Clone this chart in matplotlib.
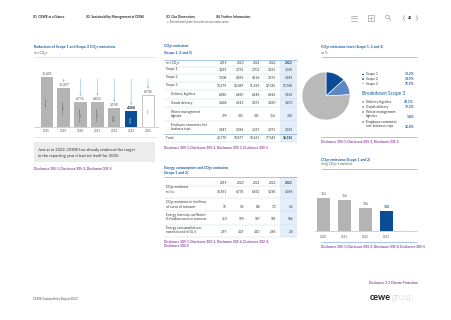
import numpy as np
import matplotlib.pyplot as plt
from matplotlib.patches import Rectangle, Circle

plt.rcParams['font.family'] = ['Lato', 'DejaVu Sans']

# reduction chart (left)
reduction_years = ['2015', '2019', '2020', '2021', '2022', '2023', '2025']
reduction_values = [13401, 10497, 6776, 6832, 5198, 4368, 8700]
reduction_notes = ['Base year', 'Target exceeded\n22%', 'Target exceeded\n49%',
                   'Target exceeded\n49%', 'Target\nexceeded', 'Target\nexceeded', 'Target']

# scope table (middle)
table_years = ['2019', '2020', '2021', '2022', '2023']
scope_rows = ['Scope 1', 'Scope 2', 'Scope 3', 'Delivery logistics', 'Goods delivery',
              'Waste management\nlogistics', 'Employee commutes incl.\nbusiness trips', 'Total']
scope_values = [
    ['3,183', '2,732', '2,706', '2,623', '2,385'],
    ['7,308', '4,056', '4,126', '2,575', '1,983'],
    ['13,279', '12,089', '11,429', '12,745', '13,768'],
    ['6,585', '6,850', '6,646', '6,926', '7,636'],
    ['3,448', '2,642', '3,075', '3,490', '3,473'],
    ['399', '343', '341', '354', '334'],
    ['2,847', '2,096', '1,367', '1,975', '2,325'],
    ['23,770', '18,877', '18,261', '17,943', '18,136'],
]

# energy table (middle bottom)
energy_rows = ['CO\u2082e emissions\nin t/a', 'CO\u2082e emissions in t/millions\nof euros of turnover',
               'Energy intensity coefficient\nGJ/million euros in turnover',
               'Energy consumption per\nmaterial used in GJ/t']
energy_values = [
    ['10,491', '6,778', '6,832', '5,198', '4,368'],
    ['15', '9.2', '8.8', '7.0', '5.5'],
    ['210', '190', '187', '181', '166'],
    ['2.97', '3.29', '3.10', '2.86', '2.8'],
]

# share pie (right)
share_labels = ['Scope 1', 'Scope 2', 'Scope 3']
share_values = [13.2, 10.9, 75.9]
breakdown_labels = ['Delivery logistics', 'Goods delivery', 'Waste management\nlogistics',
                    'Employee commutes\nincl. business trips']
breakdown_values = [42.1, 19.2, 1.8, 12.8]

# intensity bars (right bottom)
intensity_years = ['2020', '2021', '2022', '2023']
intensity_values = [162, 156, 116, 100]

W, H = 452, 320
BLUE = '#17599f'
DARK = '#0b4c96'
MID = '#5b87c5'
GREY = '#b4b4b4'
LINE = '#7aa6d6'
SEP = '#cfdcea'
PURPLE = '#85439a'
TXT = '#333333'
HIGHLIGHT = '#e2eef9'
FS = 2.3  # table text size


def box(x, y, w, h):
    return [x / W, 1 - (y + h) / H, w / W, h / H]


fig = plt.figure(figsize=(4.52, 3.2), dpi=100)
cv = fig.add_axes([0, 0, 1, 1])
cv.set_xlim(0, W)
cv.set_ylim(H, 0)
cv.axis('off')


def t(x, y, s, size=FS, color=TXT, **kw):
    kw.setdefault('va', 'center')
    cv.text(x, y, s, fontsize=size, color=color, linespacing=1.1, **kw)


def hline(x0, x1, y, color=LINE, lw=0.45):
    cv.plot([x0, x1], [y, y], color=color, lw=lw, solid_capstyle='butt')


# header
t(33, 17, '01  CEWE at a Glance', 2.3, '#222222', weight='bold')
t(86, 17, '02  Sustainability Management at CEWE', 2.3, '#222222', weight='bold')
t(166, 17, '03  Our Dimensions', 2.3, '#222222', weight='bold')
t(167, 22.5, '+  Environmental protection and resource conservation', 1.9, '#555555')
t(216, 17, '04  Further Information', 2.3, '#222222', weight='bold')
for yy in [15.5, 18, 20.5]:
    cv.plot([351, 357], [yy, yy], color='#888888', lw=0.4)
cv.add_patch(Rectangle((368, 15), 6, 6, fill=False, ec='#888888', lw=0.4))
cv.plot([369.5, 372.5], [18, 18], color='#888888', lw=0.4)
cv.plot([371, 371], [16.5, 19.5], color='#888888', lw=0.4)
cv.add_patch(Circle((387.5, 17), 1.8, fill=False, ec='#888888', lw=0.4))
cv.plot([388.8, 390.8], [18.3, 20.3], color='#888888', lw=0.4)
cv.plot([405, 403, 405], [15.5, 18, 20.5], color='#888888', lw=0.4)
cv.plot([416, 418, 416], [15.5, 18, 20.5], color='#888888', lw=0.4)
t(410.5, 18, '43', 2.4, '#222222', weight='bold', ha='center')

# ---------- left: reduction chart ----------
t(34, 47, 'Reduction of Scope 1 and Scope 2 CO\u2082e emissions', 2.6, BLUE, weight='bold')
t(34, 53, 'in t CO\u2082e', 2.3, '#555555')
hline(34, 156, 57, SEP)

ax1 = fig.add_axes(box(34, 60, 124.2, 67.3))
xs = np.arange(len(reduction_values))
cols = [GREY] * 5 + [DARK] + ['white']
ax1.bar(xs, reduction_values, width=0.73, color=cols,
        edgecolor=['none'] * 6 + ['#9a9a9a'], linewidth=0.4)
ax1.set_xlim(-0.75, 6.6)
ax1.set_ylim(0, 17930)
for s in ['top', 'right', 'left']:
    ax1.spines[s].set_visible(False)
ax1.spines['bottom'].set_color('#b0b0b0')
ax1.spines['bottom'].set_linewidth(0.4)
ax1.set_yticks([])
ax1.set_xticks(xs)
ax1.set_xticklabels(reduction_years, fontsize=2.2, color='#555555')
ax1.tick_params(axis='x', length=0, pad=1.2)
ax1.patch.set_alpha(0)
for i, v in enumerate(reduction_values):
    last = i == 5
    ax1.annotate(f'{v:,}', (i, v), xytext=(0, 1.1), textcoords='offset points',
                 ha='center', va='bottom', fontsize=2.4,
                 color='#111111' if last else '#555555',
                 weight='bold' if last else 'normal')
    ax1.text(i, v / 2, reduction_notes[i], rotation=90, fontsize=1.3,
             ha='center', va='center', linespacing=1.0,
             color='white' if last else '#333333')
    if i > 0:
        ax1.annotate('', xy=(i, v + 1500), xytext=(i, 12870),
                     arrowprops=dict(arrowstyle='-|>', color='#9cc7ea', lw=0.5,
                                     mutation_scale=2.5, shrinkA=0, shrinkB=0))

hline(34, 156, 137, SEP)
cv.add_patch(Rectangle((34, 141.5), 121, 20, color='#ececec', lw=0))
t(38.5, 149.5, 'Just as in 2022, CEWE has already undercut the target', 3.0, TXT)
t(38.5, 155.7, 'in the reporting year it had set itself for 2025.', 3.0, TXT)
t(34, 168.3, 'Disclosure 305-1, Disclosure 305-2, Disclosure 305-5', 2.3, PURPLE, weight='bold')

# ---------- middle: scope table ----------
col_right = [227, 244, 260, 276, 293]
TX0, TX1 = 164, 297
t(TX0, 46.5, 'CO\u2082e emissions', 2.5, BLUE, weight='bold')
t(TX0, 52.5, '(Scope 1, 2 and 3)', 2.5, BLUE, weight='bold')
cv.add_patch(Rectangle((280, 59.5), 17, 82.5, color=HIGHLIGHT, lw=0))
hline(TX0, TX1, 59.5)
t(TX0 + 2, 63.3, 'in t CO\u2082e', FS, TXT)
for c, yr in zip(col_right, table_years):
    t(c, 63.3, yr, FS, TXT, ha='right', weight='bold' if yr == '2023' else 'normal')

row_y = [70, 78, 85.7, 95, 103.3, 116.7, 130, 138.3]
indent = [0, 0, 0, 1, 1, 1, 1, 0]
for lab, vals, yy, ind in zip(scope_rows, scope_values, row_y, indent):
    t(TX0 + 2 + 5 * ind, yy + 1.3, lab, FS, TXT, va='bottom')
    for c, v, yr in zip(col_right, vals, table_years):
        t(c, yy + 1.3, v, FS, TXT, ha='right', va='bottom',
          weight='bold' if (yr == '2023' and lab == 'Total') else 'normal')
for yy in [66.7, 74, 82, 90, 99, 107, 121]:
    hline(TX0, TX1, yy, SEP, 0.35)
hline(TX0, TX1, 134, LINE, 0.45)
hline(TX0, TX1, 142, SEP, 0.35)
t(TX0, 147.3, 'Disclosure 305-1, Disclosure 305-2, Disclosure 305-3, Disclosure 305-5',
  2.3, PURPLE, weight='bold')

# ---------- middle bottom: energy table ----------
t(TX0, 168.3, 'Energy consumption and CO\u2082e emissions', 2.5, BLUE, weight='bold')
t(TX0, 173, '(Scope 1 and 2)', 2.5, BLUE, weight='bold')
cv.add_patch(Rectangle((280, 177), 17, 59.5, color=HIGHLIGHT, lw=0))
hline(TX0, TX1, 177)
for c, yr in zip(col_right, table_years):
    t(c, 183.3, yr, FS, TXT, ha='right', weight='bold' if yr == '2023' else 'normal')
energy_y = [192.3, 207.3, 220, 232.7]
for lab, vals, yy in zip(energy_rows, energy_values, energy_y):
    t(TX0 + 2, yy + 1.3, lab, FS, TXT, va='bottom')
    for c, v in zip(col_right, vals):
        t(c, yy + 1.3, v, FS, TXT, ha='right', va='bottom')
for yy in [186, 197.5, 211, 224.5]:
    hline(TX0, TX1, yy, SEP, 0.35)
hline(TX0, TX1, 236.5, SEP, 0.35)
t(TX0, 241.7, 'Disclosure 305-1, Disclosure 305-2, Disclosure 305-4, Disclosure 302-3,',
  2.3, PURPLE, weight='bold')
t(TX0, 246, 'Disclosure 302-5', 2.3, PURPLE, weight='bold')

# ---------- right: share pie ----------
RX0, RX1 = 321, 417
t(RX0, 47, 'CO\u2082e emissions share (Scope 1, 2 and 3)', 2.5, BLUE, weight='bold')
t(RX0, 53, 'as %', 2.3, '#555555')
hline(RX0, RX1, 57)

axp = fig.add_axes(box(302, 72, 48, 48))
pie_cols = [DARK, MID, '#b9b9b9']
axp.pie(share_values, colors=pie_cols, startangle=90, counterclock=False,
        wedgeprops=dict(edgecolor='white', linewidth=0.4))
axp.set_xlim(-1, 1)
axp.set_ylim(-1, 1)
axp.set_aspect('equal')

leg_y = [74.3, 79, 83.7]
cv.scatter([363] * 3, leg_y, marker='s', s=0.9, c=pie_cols, lw=0)
for lab, v, yy in zip(share_labels, share_values, leg_y):
    t(366, yy, lab, 2.4, TXT)
    t(414, yy, f'{v:.1f}%', 2.4, BLUE, ha='right', weight='bold')
t(362, 93.3, 'Breakdown Scope 3', 3.5, BLUE)
bd_y = [102.3, 107.3, 117, 127]
for lab, v, yy in zip(breakdown_labels, breakdown_values, bd_y):
    nl = lab.count('\n')
    cv.scatter([363], [yy - 4.7 * nl], marker='s', s=0.6, c='#a9b4c2', lw=0)
    t(366, yy + 1.3, lab, 2.4, TXT, va='bottom')
    t(414, yy, f'{v:.1f}%', 2.4, BLUE, ha='right', weight='bold')
hline(RX0, RX1, 137.3)
t(RX0, 141.7, 'Disclosure 305-1, Disclosure 305-2, Disclosure 305-3', 2.3, PURPLE, weight='bold')

# ---------- right bottom: intensity bars ----------
t(RX0, 159.5, 'CO\u2082e emissions (Scope 1 and 2)', 2.5, BLUE, weight='bold')
t(RX0, 164.5, 'in kg CO\u2082e/t material', 2.3, '#555555')
hline(RX0, RX1, 168.5)

ax2 = fig.add_axes(box(315, 175, 102, 55.7))
xi = np.arange(len(intensity_values))
ax2.bar(xi, intensity_values, width=0.64, color=[GREY] * 3 + [DARK], lw=0)
ax2.set_xlim(-0.405, 4.45)
ax2.set_ylim(0, 278.5)
for s in ['top', 'right', 'left']:
    ax2.spines[s].set_visible(False)
ax2.spines['bottom'].set_color('#b0b0b0')
ax2.spines['bottom'].set_linewidth(0.4)
ax2.set_yticks([])
ax2.set_xticks(xi)
ax2.set_xticklabels(intensity_years, fontsize=2.2, color='#555555')
ax2.tick_params(axis='x', length=0, pad=3)
ax2.patch.set_alpha(0)
for i, v in enumerate(intensity_values):
    last = i == len(intensity_values) - 1
    ax2.annotate(str(v), (i, v), xytext=(0, 1.3), textcoords='offset points',
                 ha='center', va='bottom', fontsize=2.4,
                 color=BLUE if last else '#555555', weight='bold' if last else 'normal')
hline(RX0, RX1, 241.7)
t(RX0, 246.7, 'Disclosure 305-1, Disclosure 305-2, Disclosure 305-4, Disclosure 305-5',
  2.3, PURPLE, weight='bold')

# footer
t(418, 283.3, 'Disclosure 3-3 Climate Protection', 2.3, PURPLE, weight='bold', ha='right')
t(33, 299.3, 'CEWE Sustainability Report 2023', 2.2, '#555555')
t(390.5, 297.3, 'cewe', 6.5, '#1a1a1a', weight='bold', ha='right')
t(392, 297.3, 'group', 6.5, '#555555', weight='light')

fig.savefig('out.png', dpi=100, facecolor='white')
